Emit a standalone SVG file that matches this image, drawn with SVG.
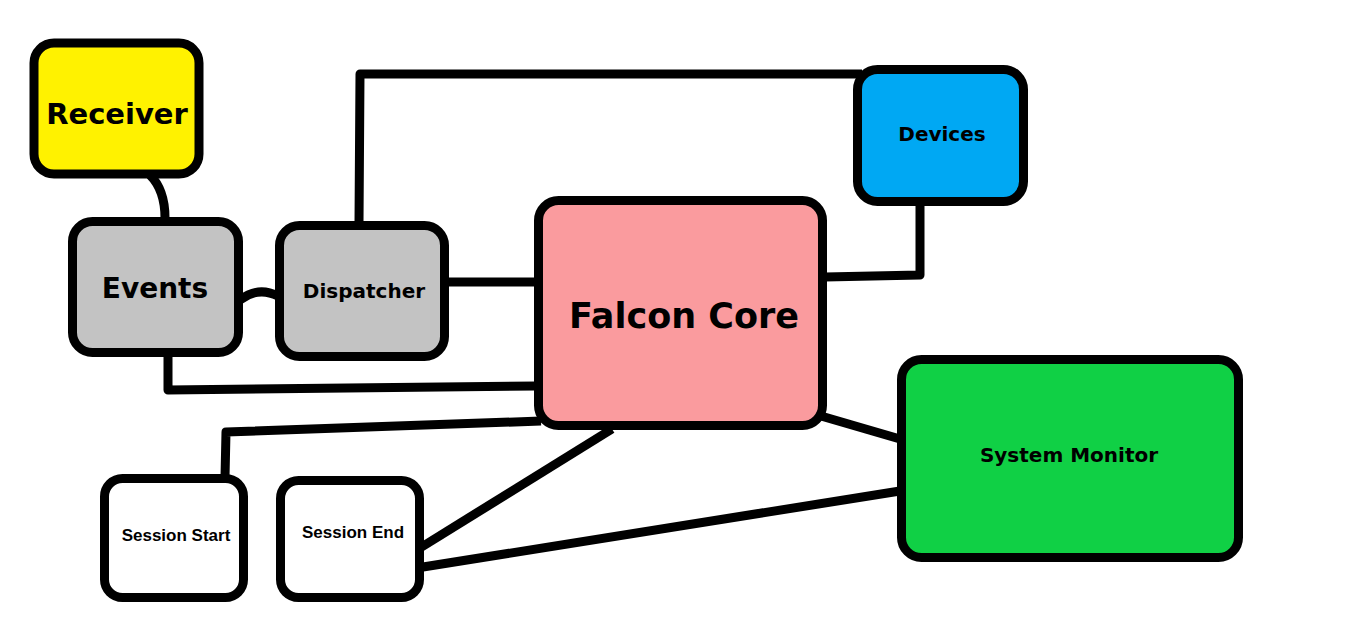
<svg xmlns="http://www.w3.org/2000/svg" width="1350" height="629" viewBox="0 0 1350 629">
<style>
.box{stroke:#000;stroke-width:9}
.c{fill:none;stroke:#000;stroke-width:9;stroke-linejoin:round}
text{font-family:"DejaVu Sans",Verdana,sans-serif;font-weight:bold;fill:#000;text-anchor:middle}
.s{font-family:"Liberation Sans",Arial,sans-serif;font-size:17px}
</style>
<rect width="1350" height="629" fill="#fff"/>
<g id="connectors">
<path class="c" d="M150,175 Q165,190 165,218"/>
<path class="c" d="M240,300 Q258,286 278,296"/>
<path class="c" d="M359,222 L360,74 L862,74"/>
<path class="c" d="M448,282 L536,282"/>
<path class="c" d="M168,356 L168,390 L536,386"/>
<path class="c" d="M825,277 L920,275 L920,204"/>
<path class="c" d="M541,421 L226,432 L225,477"/>
<path class="c" d="M612,429 L420,548"/>
<path class="c" d="M423,567 L900,491"/>
<path class="c" d="M821,416 L900,439"/>
</g>
<g id="receiver"><rect class="box" x="34" y="43" width="165" height="131" rx="20" fill="#FFF200"/><text x="117" y="124" font-size="29">Receiver</text></g>
<g id="events"><rect class="box" x="72.5" y="221.5" width="166" height="131" rx="20" fill="#C3C3C3"/><text x="155" y="298" font-size="28">Events</text></g>
<g id="dispatcher"><rect class="box" x="279.5" y="225.5" width="165" height="131" rx="20" fill="#C3C3C3"/><text x="364" y="298" font-size="20">Dispatcher</text></g>
<g id="falcon-core"><rect class="box" x="538.5" y="200.5" width="284" height="225" rx="20" fill="#FA9B9E"/><text x="684" y="328" font-size="35">Falcon Core</text></g>
<g id="devices"><rect class="box" x="857.5" y="69.5" width="166" height="132" rx="20" fill="#00A8F3"/><text x="942" y="141" font-size="20">Devices</text></g>
<g id="system-monitor"><rect class="box" x="901.5" y="359.5" width="337" height="198" rx="20" fill="#10D045"/><text x="1069" y="462" font-size="20">System Monitor</text></g>
<g id="session-start"><rect class="box" x="104.5" y="478.5" width="139" height="119" rx="18" fill="#fff"/><text class="s" x="176" y="541">Session Start</text></g>
<g id="session-end"><rect class="box" x="280.5" y="480.5" width="139" height="117" rx="18" fill="#fff"/><text class="s" x="353" y="538">Session End</text></g>
</svg>
